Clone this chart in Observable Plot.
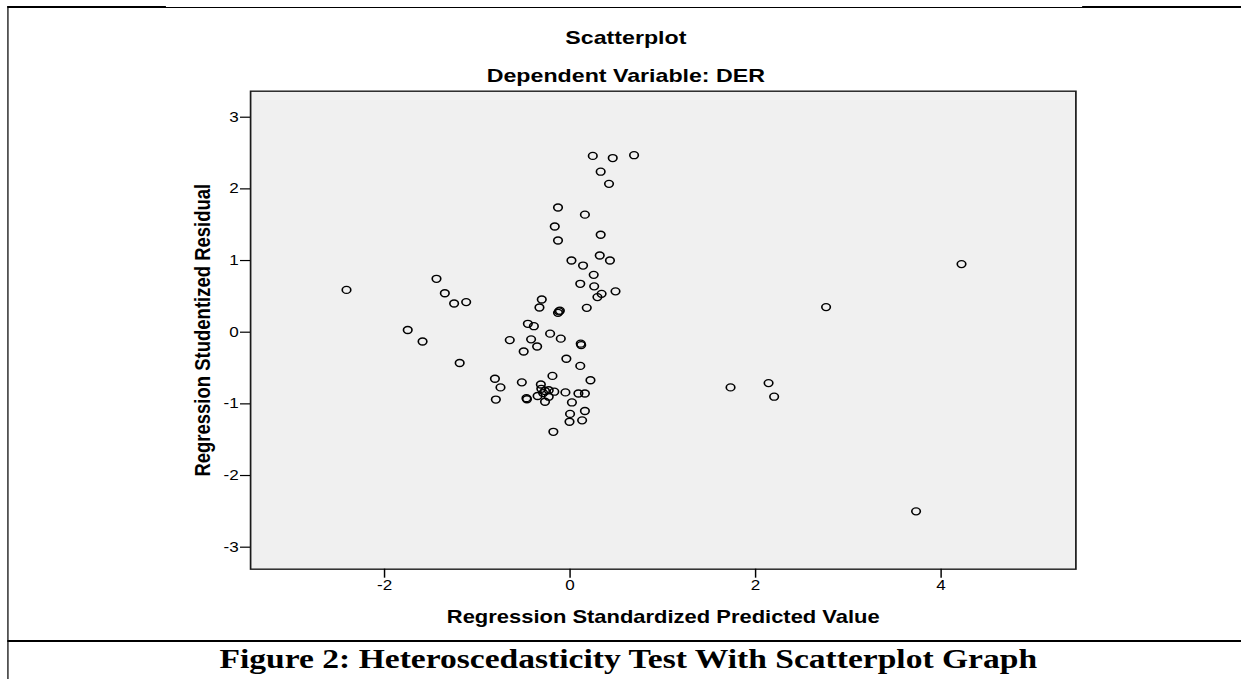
<!DOCTYPE html>
<html>
<head>
<meta charset="utf-8">
<script src="https://cdn.jsdelivr.net/npm/d3@7"></script>
<script src="https://cdn.jsdelivr.net/npm/@observablehq/plot@0.6"></script>
<style>
  html, body { margin: 0; padding: 0; background: #fff; }
  #page { position: relative; width: 1241px; height: 679px; overflow: hidden; background: #fff; }
  #wrap { position: absolute; left: 0; top: 0; width: 1017.2px; height: 679px; transform: scaleX(1.22); transform-origin: 0 0; }
  .ln { position: absolute; background: #000; }
  .ttl { position: absolute; white-space: nowrap; transform: translateX(-50%); line-height: 1; font-family: "Liberation Sans", Arial, sans-serif; font-weight: bold; color: #000; }
  #chart { position: absolute; left: 0; top: 0; }
  #caption { position: absolute; white-space: nowrap; transform: translateX(-50%); line-height: 1; font-family: "Liberation Serif", "Times New Roman", serif; font-weight: bold; color: #000; }
</style>
</head>
<body>
<div id="page">
  <div id="wrap">
    <div class="ln" style="left:5.7px;top:6px;width:1.7px;height:673px;"></div>
    <div class="ln" style="left:5.7px;top:6px;width:130px;height:2px;"></div>
    <div class="ln" style="left:135px;top:6.5px;width:754px;height:1px;"></div>
    <div class="ln" style="left:887px;top:6px;width:131px;height:2px;"></div>
    <div class="ln" style="left:5.7px;top:640px;width:1012px;height:2px;"></div>
    <div id="chart"></div>
    <div class="ttl" id="title" style="left:513px;top:28px;font-size:19px;"></div>
    <div class="ttl" id="subtitle" style="left:513px;top:66px;font-size:19px;"></div>
    <div id="caption" style="left:515px;top:644.5px;font-size:27.5px;"></div>
  </div>
</div>
<script>
// ---- data ----
const titleText = "Scatterplot";
const subtitleText = "Dependent Variable: DER";
const xLabel = "Regression Standardized Predicted Value";
const yLabel = "Regression Studentized Residual";
const captionText = "Figure 2: Heteroscedasticity Test With Scatterplot Graph";

const xTicks = [-2, 0, 2, 4];
const xTickLabels = ["-2", "0", "2", "4"];
const yTicks = [-3, -2, -1, 0, 1, 2, 3];
const yTickLabels = ["-3", "-2", "-1", "0", "1", "2", "3"];
const xDomain = [-3.444, 5.453];
const yDomain = [-3.307, 3.363];

const predicted = [-2.41, -1.44, -1.35, -1.25, -1.12, -1.75, -1.59, -1.19,
  0.245, 0.46, 0.69, 0.33, 0.42, -0.13, 0.16, -0.165, -0.13, 0.33,
  0.015, 0.32, 0.43, 0.14, 0.255, 0.11, 0.26, 0.34, 0.295, 0.49, 0.18,
  -0.305, -0.33, -0.12, -0.13, -0.11, -0.455, -0.39, -0.215, -0.65, -0.42,
  -0.10, 0.115, 0.12, -0.50, -0.355, -0.04, 0.11, -0.19, 0.22, -0.81,
  -0.75, -0.80, -0.52, -0.315, -0.31, -0.27, -0.23, -0.17, -0.29, -0.47,
  -0.465, -0.35, -0.27, -0.23, -0.05, 0.09, 0.16, 0.02, 0.00, 0.16,
  -0.006, 0.13, -0.18, 1.73, 2.14, 2.20, 3.73, 2.76, 4.22];
const residual = [0.59, 0.745, 0.544, 0.40, 0.42, 0.03, -0.13, -0.43,
  2.46, 2.43, 2.47, 2.24, 2.07, 1.74, 1.64, 1.475, 1.28, 1.36,
  1.00, 1.07, 1.00, 0.93, 0.80, 0.675, 0.64, 0.535, 0.49, 0.57, 0.34,
  0.456, 0.345, 0.29, 0.27, 0.30, 0.117, 0.084, -0.02, -0.11, -0.10,
  -0.09, -0.16, -0.18, -0.27, -0.20, -0.37, -0.47, -0.61, -0.67, -0.65,
  -0.77, -0.94, -0.70, -0.73, -0.79, -0.82, -0.81, -0.83, -0.85, -0.92,
  -0.935, -0.89, -0.97, -0.90, -0.84, -0.855, -0.855, -0.98, -1.14, -1.10,
  -1.25, -1.23, -1.39, -0.77, -0.71, -0.90, -2.50, 0.35, 0.95];

const points = predicted.map((x, i) => ({x, y: residual[i]}));

document.getElementById("title").textContent = titleText;
document.getElementById("subtitle").textContent = subtitleText;
document.getElementById("caption").textContent = captionText;

const chart = Plot.plot({
  width: 1017.2,
  height: 641,
  marginLeft: 204.9,
  marginRight: 135.8,
  marginTop: 90.7,
  marginBottom: 72.3,
  style: {fontFamily: "'Liberation Sans', Arial, sans-serif", fontSize: "14px", color: "#000", background: "transparent"},
  x: {domain: xDomain},
  y: {domain: yDomain},
  marks: [
    Plot.frame({fill: "#f0f0f0", stroke: "#1a1a1a", strokeWidth: 1.4}),
    Plot.axisX({ticks: xTicks, tickFormat: d => xTickLabels[xTicks.indexOf(d)], tickSize: 9, tickPadding: 2, label: null, stroke: "#000", strokeWidth: 1.2, fontSize: 14}),
    Plot.axisY({ticks: yTicks, tickFormat: d => yTickLabels[yTicks.indexOf(d)], tickSize: 8.2, tickPadding: 1.6, label: null, stroke: "#000", strokeWidth: 1.2, fontSize: 14}),
    Plot.dot(points, {x: "x", y: "y", r: 3.5, stroke: "#000", strokeWidth: 1.35, fill: "none"}),
    Plot.text([xLabel], {frameAnchor: "bottom", dy: 48, text: d => d, fontWeight: "bold", fontSize: 18, lineAnchor: "middle", textAnchor: "middle"}),
    Plot.text([yLabel], {frameAnchor: "left", dx: -39.6, rotate: -90, text: d => d, fontWeight: "bold", fontSize: 18.5, lineAnchor: "middle", textAnchor: "middle"})
  ]
});
document.getElementById("chart").appendChild(chart);
</script>
</body>
</html>
